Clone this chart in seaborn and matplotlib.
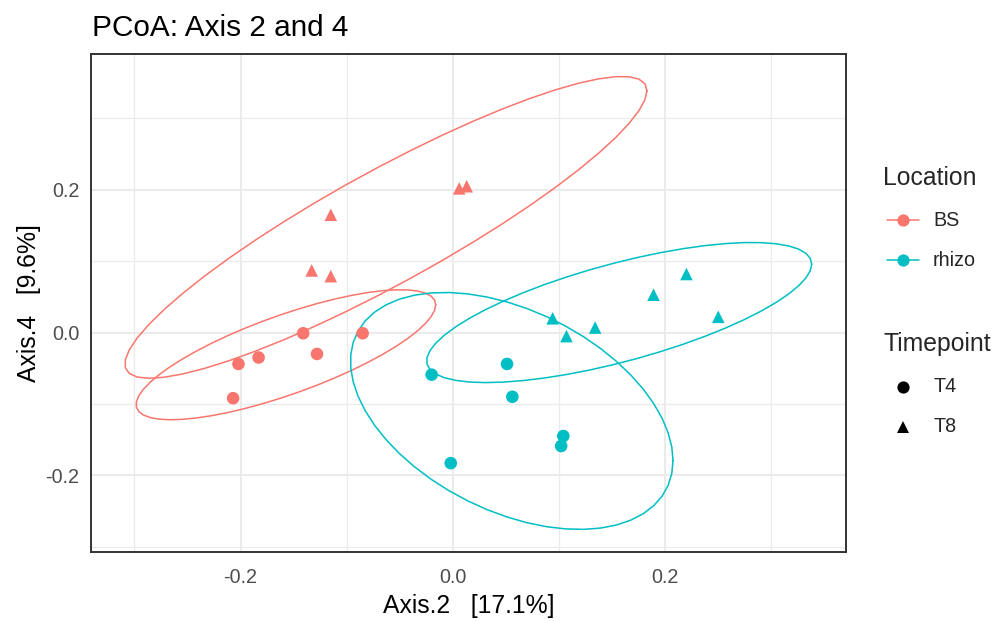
import numpy as np
import pandas as pd
import matplotlib
matplotlib.use("Agg")
import matplotlib.pyplot as plt
from matplotlib.lines import Line2D
import seaborn as sns

# PCoA sample scores (Axis.2, Axis.4) by Location and Timepoint
bs_t4_axis2 = [-0.141, -0.183, -0.202, -0.128, -0.207, -0.085]
bs_t4_axis4 = [-0.001, -0.035, -0.044, -0.030, -0.092, -0.001]
bs_t8_axis2 = [-0.115, -0.133, -0.115, 0.006, 0.013]
bs_t8_axis4 = [0.165, 0.087, 0.079, 0.202, 0.205]
rhizo_t4_axis2 = [0.051, -0.020, 0.056, 0.104, 0.102, -0.002]
rhizo_t4_axis4 = [-0.044, -0.059, -0.090, -0.145, -0.159, -0.183]
rhizo_t8_axis2 = [0.094, 0.107, 0.134, 0.189, 0.220, 0.250]
rhizo_t8_axis4 = [0.020, -0.005, 0.007, 0.053, 0.082, 0.022]

locations = ["BS", "rhizo"]
timepoints = ["T4", "T8"]
x_ticks = [-0.2, 0.0, 0.2]
y_ticks = [-0.2, 0.0, 0.2]

groups = [
    ("BS", "T4", bs_t4_axis2, bs_t4_axis4),
    ("BS", "T8", bs_t8_axis2, bs_t8_axis4),
    ("rhizo", "T4", rhizo_t4_axis2, rhizo_t4_axis4),
    ("rhizo", "T8", rhizo_t8_axis2, rhizo_t8_axis4),
]
rows = []
for loc, tp, xs, ys in groups:
    for a, b in zip(xs, ys):
        rows.append({"Axis.2": a, "Axis.4": b, "Location": loc, "Timepoint": tp})
df = pd.DataFrame(rows)

palette = {"BS": "#F8766D", "rhizo": "#00BFC4"}
markers = {"T4": "o", "T8": "^"}


def cov_trob(xy, nu=5, maxit=25, tol=0.01):
    """Multivariate t location/scatter estimate (as in MASS::cov.trob)."""
    n, p = xy.shape
    wt = np.ones(n)
    loc = xy.mean(axis=0)
    w = np.sqrt(wt)
    X = xy - loc
    for _ in range(maxit):
        w0 = w
        X = xy - loc
        _, d, vt = np.linalg.svd(np.sqrt(w / w.sum())[:, None] * X, full_matrices=False)
        wX = X @ vt.T @ np.diag(1.0 / d)
        Q = (wX ** 2).sum(axis=1)
        w = wt * (nu + p) / (nu + Q)
        loc = (w[:, None] * xy).sum(axis=0) / w.sum()
        if np.all(np.abs(w - w0) < tol):
            break
    sX = np.sqrt(w)[:, None] * X
    return loc, sX.T @ sX / wt.sum()


def t_ellipse(xs, ys, level=0.95, segments=51):
    xy = np.column_stack([xs, ys]).astype(float)
    center, shape = cov_trob(xy)
    dfd = len(xy) - 1
    # F quantile with 2 numerator degrees of freedom
    fq = dfd / 2.0 * ((1 - level) ** (-2.0 / dfd) - 1)
    radius = np.sqrt(2 * fq)
    upper = np.linalg.cholesky(shape).T
    ang = np.arange(segments + 1) * 2 * np.pi / segments
    circle = np.column_stack([np.cos(ang), np.sin(ang)])
    return center + radius * circle @ upper


W, H = 997, 621
fig = plt.figure(figsize=(W / 100, H / 100), dpi=100)
sns.set_style("white")
plt.rcParams["font.family"] = ["Liberation Sans", "DejaVu Sans"]
ax = fig.add_axes([91 / W, 1 - 552 / H, (846 - 91) / W, (552 - 54) / H])

sns.scatterplot(data=df, x="Axis.2", y="Axis.4", hue="Location", style="Timepoint",
                palette=palette, markers=markers, hue_order=locations,
                style_order=timepoints, s=82, linewidth=0, legend=False, ax=ax, zorder=3)

all_x = list(df["Axis.2"])
all_y = list(df["Axis.4"])
for loc, tp, xs, ys in groups:
    e = t_ellipse(xs, ys)
    ax.plot(e[:, 0], e[:, 1], color=palette[loc], lw=1.1, zorder=2)
    all_x += list(e[:, 0])
    all_y += list(e[:, 1])

xr = max(all_x) - min(all_x)
yr = max(all_y) - min(all_y)
ax.set_xlim(min(all_x) - 0.05 * xr, max(all_x) + 0.05 * xr)
ax.set_ylim(min(all_y) - 0.05 * yr, max(all_y) + 0.05 * yr)

ax.set_xticks(x_ticks)
ax.set_yticks(y_ticks)
ax.set_xticklabels([f"{v:.1f}" for v in x_ticks])
ax.set_yticklabels([f"{v:.1f}" for v in y_ticks])
ax.set_xticks([-0.3, -0.1, 0.1, 0.3], minor=True)
ax.set_yticks([-0.3, -0.1, 0.1, 0.3], minor=True)
ax.grid(which="major", color="#EBEBEB", lw=1.4, zorder=0)
ax.grid(which="minor", color="#EBEBEB", lw=0.9, zorder=0)
ax.set_axisbelow(True)
ax.tick_params(which="major", length=4.5, width=1.0, color="#333333",
               labelcolor="#4D4D4D", labelsize=14.2)
ax.tick_params(axis="x", which="major", pad=7)
ax.tick_params(axis="y", which="major", pad=4)
ax.tick_params(which="minor", length=0)
for sp in ax.spines.values():
    sp.set_visible(True)
    sp.set_color("#333333")
    sp.set_linewidth(1.4)

ax.set_xlabel("Axis.2   [17.1%]", fontsize=17.8, color="black", labelpad=5)
ax.set_ylabel("Axis.4   [9.6%]", fontsize=17.8, color="black", labelpad=3)

fig.text(92 / W, 1 - 36 / H, "PCoA: Axis 2 and 4", fontsize=21.4, color="black",
         ha="left", va="baseline")


def fx(px):
    return px / W


def fy(py):
    return 1 - py / H


# Legend: Location
fig.text(fx(883), fy(178), "Location", fontsize=17.8, ha="left", va="center")
for loc, yy in zip(locations, [220, 260]):
    fig.add_artist(Line2D([fx(887), fx(919)], [fy(yy), fy(yy)], color=palette[loc],
                          lw=1.1, transform=fig.transFigure))
    fig.add_artist(Line2D([fx(903)], [fy(yy)], marker="o", ms=8.8, color=palette[loc],
                          mew=0, transform=fig.transFigure))
    fig.text(fx(933), fy(yy), loc, fontsize=14.2, ha="left", va="center")

# Legend: Timepoint
fig.text(fx(883), fy(344), "Timepoint", fontsize=17.8, ha="left", va="center")
for tp, yy in zip(timepoints, [387, 427]):
    fig.add_artist(Line2D([fx(903)], [fy(yy)], marker=markers[tp], ms=8.8,
                          color="black", mew=0, transform=fig.transFigure))
    fig.text(fx(933), fy(yy), tp, fontsize=14.2, ha="left", va="center")

fig.savefig("out.png", dpi=100)
